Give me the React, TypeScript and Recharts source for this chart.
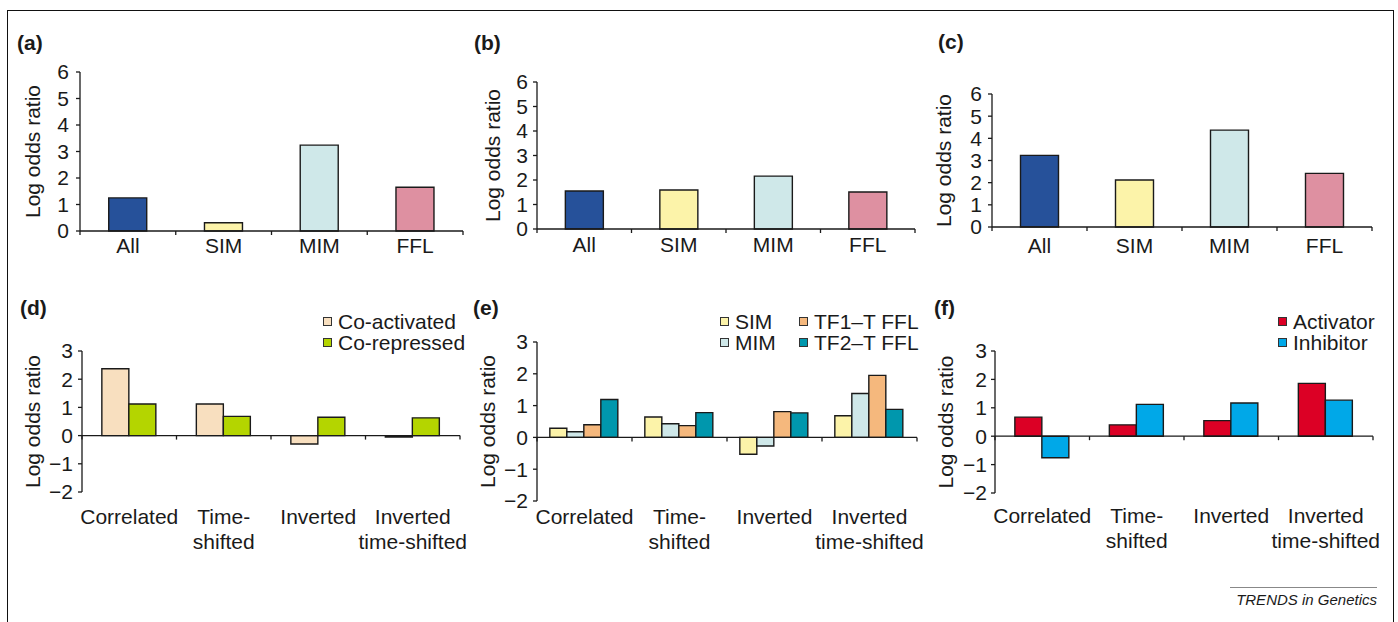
import { BarChart, Bar, XAxis, YAxis, ReferenceLine, Legend, Cell } from "recharts";

const INK = "#1a1a1a";
const FONT = "'Liberation Sans', Arial, sans-serif";
const FS = 21;

// top row: enrichment per motif type
const motifCats = ["All", "SIM", "MIM", "FFL"];
const motifColors = ["#26519a", "#fcf3a9", "#cfe8e9", "#de90a1"];
const valuesA = [1.25, 0.31, 3.24, 1.65];
const valuesB = [1.55, 1.59, 2.16, 1.51];
const valuesC = [3.23, 2.12, 4.37, 2.42];
const topTicks = [0, 1, 2, 3, 4, 5, 6];

// bottom row: expression relations
const exprCats = ["Correlated", "Time-\nshifted", "Inverted", "Inverted\ntime-shifted"];
const bottomTicks = [-2, -1, 0, 1, 2, 3];
const coActivated = [2.37, 1.12, -0.3, -0.05];
const coRepressed = [1.12, 0.68, 0.65, 0.63];
const simVals = [0.29, 0.64, -0.53, 0.68];
const mimVals = [0.18, 0.43, -0.27, 1.38];
const tf1Vals = [0.4, 0.37, 0.81, 1.95];
const tf2Vals = [1.19, 0.78, 0.77, 0.88];
const activatorVals = [0.67, 0.4, 0.55, 1.86];
const inhibitorVals = [-0.76, 1.12, 1.17, 1.27];

interface Series {
  key: string;
  name: string;
  color: string;
  values: number[];
}

interface Box {
  x0: number;
  x1: number;
  y0: number;
  y1: number;
}

// fixed chart paddings around the plot box
const YW = 70;
const MT = 50;
const XH = 70;
const MR = 10;

function CatTick(props: any) {
  const { x, y, payload } = props;
  const lines = String(payload.value).split("\n");
  return (
    <text x={x} y={y} textAnchor="middle" fill={INK} fontSize={FS}>
      {lines.map((ln, i) => (
        <tspan key={i} x={x} dy={i === 0 ? 15 : 25}>
          {ln}
        </tspan>
      ))}
    </text>
  );
}

function YTitle(props: any) {
  const { viewBox, dx } = props;
  const x = viewBox.x + viewBox.width - dx;
  const y = viewBox.y + viewBox.height / 2;
  return (
    <text
      x={x}
      y={y}
      transform={`rotate(-90 ${x} ${y})`}
      textAnchor="middle"
      dominantBaseline="central"
      fill={INK}
      fontSize={FS}
    >
      Log odds ratio
    </text>
  );
}

// zero line with excel-style tick marks between categories
function zeroAxis(n: number) {
  return (p: any) => {
    const { x1, x2, y1 } = p;
    const step = (x2 - x1) / n;
    return (
      <g>
        <line x1={x1} x2={x2} y1={y1} y2={y1} stroke={INK} strokeWidth={1.3} />
        {Array.from({ length: n + 1 }, (_, i) => (
          <line key={i} x1={x1 + i * step} x2={x1 + i * step} y1={y1} y2={y1 + 4} stroke={INK} strokeWidth={1.3} />
        ))}
      </g>
    );
  };
}

const fmt = (v: number) => (v < 0 ? `\u2212${Math.abs(v)}` : String(v));

interface PanelProps {
  box: Box;
  cats: string[];
  series: Series[];
  barColors?: string[];
  ticks: number[];
  gap: string;
  yMargin: number;
  xMargin: number;
  titleDx: number;
  legendAt?: { x: number; y: number; cols: number };
}

function Panel({ box, cats, series, barColors, ticks, gap, yMargin, xMargin, titleDx, legendAt }: PanelProps) {
  const L = box.x0 - YW;
  const T = box.y0 - MT;
  const W = box.x1 - box.x0 + YW + MR;
  const H = box.y1 - box.y0 + MT + XH;

  const data = cats.map((c, i) => {
    const row: Record<string, any> = { cat: c };
    series.forEach((s) => (row[s.key] = s.values[i]));
    return row;
  });

  const renderLegend = () => {
    if (!legendAt) return null;
    return (
      <div
        style={{
          display: "grid",
          gridTemplateColumns: legendAt.cols === 2 ? "79px auto" : "auto",
          gridTemplateRows: "21px 21px",
          gridAutoFlow: "column",
          fontSize: FS,
          lineHeight: "21px",
          color: INK,
          whiteSpace: "nowrap",
        }}
      >
        {series.map((s) => (
          <div key={s.key} style={{ display: "flex", alignItems: "center" }}>
            <span
              style={{
                display: "inline-block",
                width: 7,
                height: 7,
                background: s.color,
                border: "1px solid #333",
                marginRight: 6,
              }}
            />
            <span>{s.name}</span>
          </div>
        ))}
      </div>
    );
  };

  return (
    <div style={{ position: "absolute", left: L, top: T }}>
      <BarChart
        width={W}
        height={H}
        data={data}
        margin={{ top: MT, right: MR, bottom: 0, left: 0 }}
        barCategoryGap={gap}
        barGap={0}
      >
        <XAxis
          dataKey="cat"
          interval={0}
          axisLine={false}
          tickLine={false}
          tickSize={0}
          tickMargin={xMargin}
          height={XH}
          tick={<CatTick />}
        />
        <YAxis
          type="number"
          domain={[ticks[0], ticks[ticks.length - 1]]}
          ticks={ticks}
          interval={0}
          width={YW}
          tickSize={4}
          tickMargin={yMargin}
          tickFormatter={fmt}
          axisLine={{ stroke: INK, strokeWidth: 1.3 }}
          tickLine={{ stroke: INK, strokeWidth: 1.3 }}
          tick={{ fill: INK, fontSize: FS }}
          label={<YTitle dx={titleDx} />}
        />
        {legendAt && (
          <Legend
            layout="horizontal"
            verticalAlign="middle"
            align="center"
            content={renderLegend}
            wrapperStyle={{ position: "absolute", left: legendAt.x - L, top: legendAt.y - T, width: "auto" }}
          />
        )}
        {series.map((s) => (
          <Bar key={s.key} dataKey={s.key} name={s.name} fill={s.color} stroke={INK} strokeWidth={1.4} isAnimationActive={false}>
            {barColors && barColors.map((c, i) => <Cell key={i} fill={c} />)}
          </Bar>
        ))}
        <ReferenceLine y={0} shape={zeroAxis(cats.length)} />
      </BarChart>
    </div>
  );
}

const labelStyle = (left: number, top: number): React.CSSProperties => ({
  position: "absolute",
  left,
  top,
  fontSize: FS,
  lineHeight: "21px",
  fontWeight: 700,
  color: INK,
});

export default function App() {
  return (
    <div
      style={{
        position: "absolute",
        left: 0,
        top: 0,
        width: 1398,
        height: 622,
        background: "#fff",
        overflow: "hidden",
        fontFamily: FONT,
      }}
    >
      <div
        style={{
          position: "absolute",
          left: 7,
          top: 10,
          width: 1387,
          height: 700,
          borderTop: "1px solid #111",
          borderLeft: "1px solid #111",
          borderRight: "1px solid #111",
          boxSizing: "border-box",
        }}
      />

      <div style={labelStyle(17, 32)}>(a)</div>
      <div style={labelStyle(474, 32)}>(b)</div>
      <div style={labelStyle(938, 31)}>(c)</div>
      <div style={labelStyle(20, 297)}>(d)</div>
      <div style={labelStyle(473, 297)}>(e)</div>
      <div style={labelStyle(934, 297)}>(f)</div>

      <Panel
        box={{ x0: 80, x1: 463, y0: 72, y1: 231 }}
        cats={motifCats}
        series={[{ key: "v", name: "All", color: motifColors[0], values: valuesA }]}
        barColors={motifColors}
        ticks={topTicks}
        gap="30%"
        yMargin={7}
        xMargin={7}
        titleDx={48}
      />
      <Panel
        box={{ x0: 537, x1: 915, y0: 82, y1: 229 }}
        cats={motifCats}
        series={[{ key: "v", name: "All", color: motifColors[0], values: valuesB }]}
        barColors={motifColors}
        ticks={topTicks}
        gap="30%"
        yMargin={5}
        xMargin={8}
        titleDx={45}
      />
      <Panel
        box={{ x0: 992, x1: 1372, y0: 94, y1: 227 }}
        cats={motifCats}
        series={[{ key: "v", name: "All", color: motifColors[0], values: valuesC }]}
        barColors={motifColors}
        ticks={topTicks}
        gap="30%"
        yMargin={6}
        xMargin={11}
        titleDx={49}
      />

      <Panel
        box={{ x0: 82, x1: 460, y0: 351, y1: 492 }}
        cats={exprCats}
        series={[
          { key: "coAct", name: "Co-activated", color: "#f8dfbf", values: coActivated },
          { key: "coRep", name: "Co-repressed", color: "#b4d500", values: coRepressed },
        ]}
        ticks={bottomTicks}
        gap="21%"
        yMargin={5}
        xMargin={17}
        titleDx={50}
        legendAt={{ x: 323, y: 311, cols: 1 }}
      />
      <Panel
        box={{ x0: 537, x1: 917, y0: 342, y1: 501 }}
        cats={exprCats}
        series={[
          { key: "sim", name: "SIM", color: "#fcf3a9", values: simVals },
          { key: "mim", name: "MIM", color: "#cfe8e9", values: mimVals },
          { key: "tf1", name: "TF1\u2013T FFL", color: "#f5b87d", values: tf1Vals },
          { key: "tf2", name: "TF2\u2013T FFL", color: "#0097ad", values: tf2Vals },
        ]}
        ticks={bottomTicks}
        gap="13.5%"
        yMargin={5}
        xMargin={8}
        titleDx={50}
        legendAt={{ x: 720, y: 311, cols: 2 }}
      />
      <Panel
        box={{ x0: 995, x1: 1373, y0: 351, y1: 493 }}
        cats={exprCats}
        series={[
          { key: "act", name: "Activator", color: "#dc0025", values: activatorVals },
          { key: "inh", name: "Inhibitor", color: "#00a8e8", values: inhibitorVals },
        ]}
        ticks={bottomTicks}
        gap="21%"
        yMargin={4}
        xMargin={15}
        titleDx={50}
        legendAt={{ x: 1278, y: 311, cols: 1 }}
      />

      <div
        style={{
          position: "absolute",
          left: 1230,
          top: 587,
          width: 147,
          borderTop: "1.5px solid #888",
          paddingTop: 4,
          fontSize: 15,
          lineHeight: "15px",
          fontStyle: "italic",
          textAlign: "right",
          color: INK,
          whiteSpace: "nowrap",
        }}
      >
        TRENDS in Genetics
      </div>
    </div>
  );
}
